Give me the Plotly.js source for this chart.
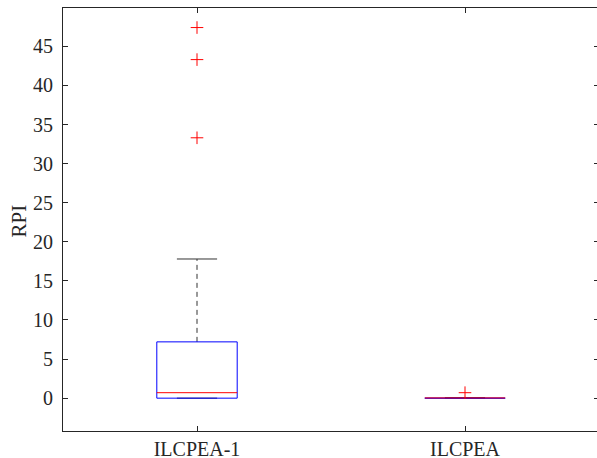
<!DOCTYPE html>
<html>
<head>
<meta charset="utf-8">
<script src="https://cdn.plot.ly/plotly-3.0.1.min.js"></script>
<style>
html,body{margin:0;padding:0;overflow:hidden;background:#fff;}
#chart{width:600px;height:458px;}
</style>
</head>
<body>
<div id="chart"></div>
<script>
// Data
const categories = ['ILCPEA-1', 'ILCPEA'];
const positions = [1, 2];
const q1 = [0.0, 0.0];
const medians = [0.7, 0.03];
const q3 = [7.2, 0.06];
const lowerWhisker = [0.0, 0.0];
const upperWhisker = [17.8, 0.06];
const outliers = [[47.4, 43.3, 33.3], [0.7]];
const yTicks = [0, 5, 10, 15, 20, 25, 30, 35, 40, 45];
const yTitle = 'RPI';

const boxHalf = 0.15, capHalf = 0.075;
const boxX = [], boxY = [], medX = [], medY = [], whX = [], whY = [], capX = [], capY = [], outX = [], outY = [];
positions.forEach((c, i) => {
  boxX.push(c - boxHalf, c + boxHalf, c + boxHalf, c - boxHalf, c - boxHalf, null);
  boxY.push(q1[i], q1[i], q3[i], q3[i], q1[i], null);
  medX.push(c - boxHalf, c + boxHalf, null);
  medY.push(medians[i], medians[i], null);
  whX.push(c, c, null, c, c, null);
  whY.push(q3[i], upperWhisker[i], null, q1[i], lowerWhisker[i], null);
  capX.push(c - capHalf, c + capHalf, null, c - capHalf, c + capHalf, null);
  capY.push(upperWhisker[i], upperWhisker[i], null, lowerWhisker[i], lowerWhisker[i], null);
  outliers[i].forEach(v => { outX.push(c); outY.push(v); });
});

const traces = [
  {x: whX, y: whY, mode: 'lines', line: {color: '#333', width: 1, dash: '5px,4px'}, hoverinfo: 'skip'},
  {x: capX, y: capY, mode: 'lines', line: {color: '#333', width: 1}, hoverinfo: 'skip'},
  {x: boxX, y: boxY, mode: 'lines', line: {color: '#0000ff', width: 1}, hoverinfo: 'skip'},
  {x: medX, y: medY, mode: 'lines', line: {color: '#ff0000', width: 1}, hoverinfo: 'skip'},
  {x: outX, y: outY, mode: 'markers', marker: {symbol: 'cross-thin-open', size: 9, color: '#ff0000', line: {color: '#ff0000', width: 1}}, hoverinfo: 'skip'}
];

const fontFam = 'Liberation Serif, Times New Roman, serif';
const layout = {
  width: 600, height: 458,
  margin: {l: 63, r: 1, t: 8, b: 27},
  showlegend: false,
  paper_bgcolor: '#fff', plot_bgcolor: '#fff',
  font: {family: fontFam, color: '#262626', size: 20},
  xaxis: {
    range: [0.5, 2.5], tickvals: positions, ticktext: categories,
    showgrid: false, zeroline: false, showline: true, linecolor: '#262626', linewidth: 1,
    mirror: 'ticks', ticks: 'inside', ticklen: 5, tickcolor: '#262626',
    tickfont: {family: fontFam, size: 20, color: '#262626'}, ticklabelstandoff: 0
  },
  yaxis: {
    range: [-4.2, 49.9], tickvals: yTicks,
    showgrid: false, zeroline: false, showline: true, linecolor: '#262626', linewidth: 1,
    mirror: 'ticks', ticks: 'inside', ticklen: 5, tickcolor: '#262626',
    tickfont: {family: fontFam, size: 20, color: '#262626'}, ticklabelstandoff: 5
  },
  annotations: [{
    text: yTitle, xref: 'paper', yref: 'paper', x: 0, y: 0.5,
    xanchor: 'center', yanchor: 'middle', xshift: -45, yshift: -2,
    textangle: -90, showarrow: false,
    font: {family: fontFam, size: 21, color: '#262626'}
  }]
};
Plotly.newPlot('chart', traces, layout, {displayModeBar: false, staticPlot: true});
</script>
</body>
</html>
